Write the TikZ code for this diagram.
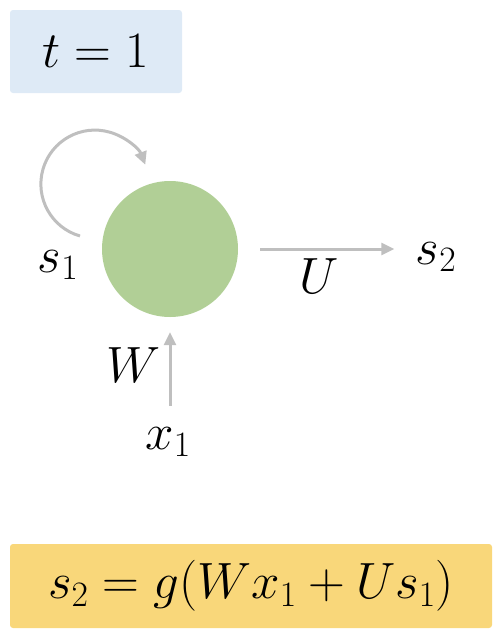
\documentclass[tikz,border=0pt]{standalone}
\usepackage{fix-cm}
\usepackage{amsmath, amssymb}
\usetikzlibrary{arrows.meta}

\definecolor{timeblue}{RGB}{222,234,246}
\definecolor{eqyellow}{RGB}{249,215,122}
\definecolor{cellgreen}{RGB}{177,207,150}
\definecolor{linkgray}{RGB}{191,191,191}

\tikzset{
	panel/.style={rounded corners=3pt, inner sep=0pt},
	cell/.style={circle, fill=cellgreen, minimum size=136pt, inner sep=0pt},
	link/.style={draw=linkgray, line width=3pt, ->},
}

\begin{document}
\begin{tikzpicture}[x=1pt, y=-1pt, >={Triangle[length=13pt,width=12pt]},
	font=\fontsize{51}{61}\selectfont]
	\useasboundingbox (0,0) rectangle (502,638);

	\node[panel, fill=timeblue, minimum width=172pt, minimum height=83pt] (time) at (96,51.5) {$t=1$};

	\node[cell] (h) at (170,249) {};

	\node (s1) at (58,265) {$s_1$};
	\node (s2) at (436,257) {$s_2$};
	\node (x1) at (168,442) {$x_1$};
	\node (U) at (319,276) {$U$};
	\node (W) at (134,365) {$W$};

	\coordinate (loopstart) at (80,236);
	\draw[link] (loopstart) arc[start angle=106, end angle=339, radius=54];

	\draw[link] ([xshift=22pt]h.east) -- ([xshift=-18pt]h.east -| s2.west);
	\draw[link] ([yshift=18pt]x1.north -| h.south) -- ([yshift=-15pt]h.south);

	\node[panel, fill=eqyellow, minimum width=482pt, minimum height=84pt] (eq) at (251,586) {$s_2=g(Wx_1+Us_1)$};
\end{tikzpicture}
\end{document}
